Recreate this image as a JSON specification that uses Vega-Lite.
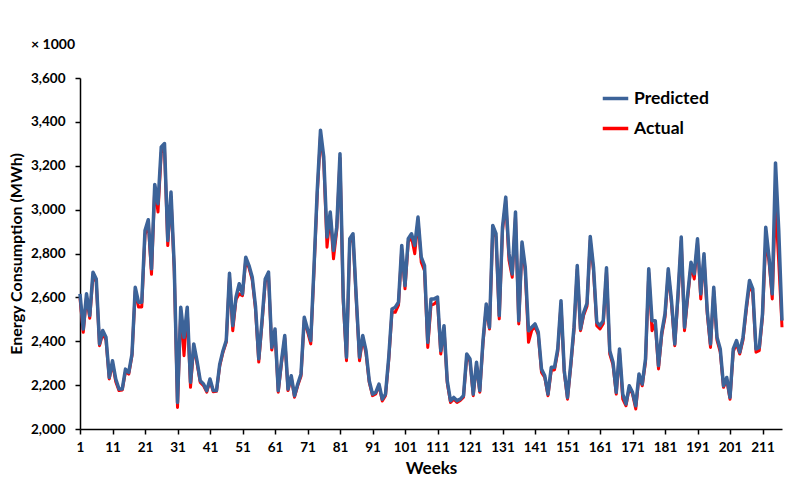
{
  "$schema": "https://vega.github.io/schema/vega-lite/v6.json",
  "width": 702,
  "height": 351,
  "autosize": {"type": "none"},
  "padding": {"left": 80, "top": 78, "right": 27, "bottom": 69},
  "background": "white",
  "title": {"text": "× 1000", "anchor": "start", "frame": "group", "dx": -49, "offset": 19, "font": "Lato", "fontSize": 14, "fontWeight": "bold", "color": "black"},
  "data": {"values": [
{"Week":1,"Predicted":2616,"Actual":2595},{"Week":2,"Predicted":2456,"Actual":2441},{"Week":3,"Predicted":2616,"Actual":2600},{"Week":4,"Predicted":2517,"Actual":2505},{"Week":5,"Predicted":2715,"Actual":2700},{"Week":6,"Predicted":2684,"Actual":2670},{"Week":7,"Predicted":2388,"Actual":2380},{"Week":8,"Predicted":2449,"Actual":2435},{"Week":9,"Predicted":2418,"Actual":2405},{"Week":10,"Predicted":2235,"Actual":2228},
{"Week":11,"Predicted":2311,"Actual":2300},{"Week":12,"Predicted":2228,"Actual":2215},{"Week":13,"Predicted":2182,"Actual":2175},{"Week":14,"Predicted":2182,"Actual":2178},{"Week":15,"Predicted":2273,"Actual":2262},{"Week":16,"Predicted":2258,"Actual":2250},{"Week":17,"Predicted":2342,"Actual":2335},{"Week":18,"Predicted":2646,"Actual":2630},{"Week":19,"Predicted":2578,"Actual":2556},{"Week":20,"Predicted":2578,"Actual":2556},
{"Week":21,"Predicted":2905,"Actual":2885},{"Week":22,"Predicted":2954,"Actual":2940},{"Week":23,"Predicted":2730,"Actual":2705},{"Week":24,"Predicted":3115,"Actual":3100},{"Week":25,"Predicted":3027,"Actual":2989},{"Week":26,"Predicted":3286,"Actual":3260},{"Week":27,"Predicted":3301,"Actual":3280},{"Week":28,"Predicted":2859,"Actual":2836},{"Week":29,"Predicted":3080,"Actual":3060},{"Week":30,"Predicted":2740,"Actual":2720},
{"Week":31,"Predicted":2121,"Actual":2098},{"Week":32,"Predicted":2555,"Actual":2540},{"Week":33,"Predicted":2418,"Actual":2334},{"Week":34,"Predicted":2555,"Actual":2540},{"Week":35,"Predicted":2213,"Actual":2190},{"Week":36,"Predicted":2388,"Actual":2375},{"Week":37,"Predicted":2311,"Actual":2300},{"Week":38,"Predicted":2220,"Actual":2212},{"Week":39,"Predicted":2205,"Actual":2198},{"Week":40,"Predicted":2175,"Actual":2168},
{"Week":41,"Predicted":2228,"Actual":2220},{"Week":42,"Predicted":2175,"Actual":2170},{"Week":43,"Predicted":2175,"Actual":2172},{"Week":44,"Predicted":2296,"Actual":2288},{"Week":45,"Predicted":2357,"Actual":2350},{"Week":46,"Predicted":2403,"Actual":2395},{"Week":47,"Predicted":2710,"Actual":2695},{"Week":48,"Predicted":2471,"Actual":2448},{"Week":49,"Predicted":2601,"Actual":2590},{"Week":50,"Predicted":2662,"Actual":2616},
{"Week":51,"Predicted":2616,"Actual":2608},{"Week":52,"Predicted":2783,"Actual":2770},{"Week":53,"Predicted":2745,"Actual":2735},{"Week":54,"Predicted":2692,"Actual":2680},{"Week":55,"Predicted":2560,"Actual":2545},{"Week":56,"Predicted":2320,"Actual":2305},{"Week":57,"Predicted":2494,"Actual":2480},{"Week":58,"Predicted":2684,"Actual":2670},{"Week":59,"Predicted":2715,"Actual":2700},{"Week":60,"Predicted":2372,"Actual":2360},
{"Week":61,"Predicted":2456,"Actual":2445},{"Week":62,"Predicted":2175,"Actual":2168},{"Week":63,"Predicted":2311,"Actual":2300},{"Week":64,"Predicted":2426,"Actual":2415},{"Week":65,"Predicted":2182,"Actual":2175},{"Week":66,"Predicted":2243,"Actual":2235},{"Week":67,"Predicted":2152,"Actual":2145},{"Week":68,"Predicted":2205,"Actual":2198},{"Week":69,"Predicted":2251,"Actual":2240},{"Week":70,"Predicted":2509,"Actual":2495},
{"Week":71,"Predicted":2456,"Actual":2445},{"Week":72,"Predicted":2403,"Actual":2388},{"Week":73,"Predicted":2738,"Actual":2720},{"Week":74,"Predicted":3088,"Actual":3070},{"Week":75,"Predicted":3362,"Actual":3340},{"Week":76,"Predicted":3240,"Actual":3220},{"Week":77,"Predicted":2875,"Actual":2829},{"Week":78,"Predicted":2989,"Actual":2975},{"Week":79,"Predicted":2814,"Actual":2776},{"Week":80,"Predicted":2920,"Actual":2905},
{"Week":81,"Predicted":3255,"Actual":3235},{"Week":82,"Predicted":2600,"Actual":2580},{"Week":83,"Predicted":2327,"Actual":2311},{"Week":84,"Predicted":2867,"Actual":2850},{"Week":85,"Predicted":2890,"Actual":2875},{"Week":86,"Predicted":2601,"Actual":2590},{"Week":87,"Predicted":2327,"Actual":2311},{"Week":88,"Predicted":2426,"Actual":2415},{"Week":89,"Predicted":2357,"Actual":2345},{"Week":90,"Predicted":2220,"Actual":2212},
{"Week":91,"Predicted":2159,"Actual":2152},{"Week":92,"Predicted":2167,"Actual":2160},{"Week":93,"Predicted":2205,"Actual":2198},{"Week":94,"Predicted":2136,"Actual":2128},{"Week":95,"Predicted":2159,"Actual":2152},{"Week":96,"Predicted":2327,"Actual":2315},{"Week":97,"Predicted":2547,"Actual":2535},{"Week":98,"Predicted":2555,"Actual":2532},{"Week":99,"Predicted":2578,"Actual":2565},{"Week":100,"Predicted":2837,"Actual":2820},
{"Week":101,"Predicted":2654,"Actual":2639},{"Week":102,"Predicted":2867,"Actual":2852},{"Week":103,"Predicted":2890,"Actual":2875},{"Week":104,"Predicted":2837,"Actual":2799},{"Week":105,"Predicted":2966,"Actual":2950},{"Week":106,"Predicted":2783,"Actual":2760},{"Week":107,"Predicted":2745,"Actual":2722},{"Week":108,"Predicted":2395,"Actual":2372},{"Week":109,"Predicted":2593,"Actual":2563},{"Week":110,"Predicted":2593,"Actual":2570},
{"Week":111,"Predicted":2601,"Actual":2585},{"Week":112,"Predicted":2357,"Actual":2342},{"Week":113,"Predicted":2471,"Actual":2460},{"Week":114,"Predicted":2220,"Actual":2210},{"Week":115,"Predicted":2129,"Actual":2121},{"Week":116,"Predicted":2144,"Actual":2136},{"Week":117,"Predicted":2129,"Actual":2121},{"Week":118,"Predicted":2136,"Actual":2130},{"Week":119,"Predicted":2152,"Actual":2145},{"Week":120,"Predicted":2342,"Actual":2330},
{"Week":121,"Predicted":2319,"Actual":2308},{"Week":122,"Predicted":2159,"Actual":2152},{"Week":123,"Predicted":2304,"Actual":2292},{"Week":124,"Predicted":2175,"Actual":2168},{"Week":125,"Predicted":2403,"Actual":2390},{"Week":126,"Predicted":2570,"Actual":2555},{"Week":127,"Predicted":2464,"Actual":2456},{"Week":128,"Predicted":2928,"Actual":2910},{"Week":129,"Predicted":2890,"Actual":2875},{"Week":130,"Predicted":2517,"Actual":2502},
{"Week":131,"Predicted":2920,"Actual":2905},{"Week":132,"Predicted":3057,"Actual":3040},{"Week":133,"Predicted":2799,"Actual":2769},{"Week":134,"Predicted":2707,"Actual":2692},{"Week":135,"Predicted":2989,"Actual":2970},{"Week":136,"Predicted":2494,"Actual":2479},{"Week":137,"Predicted":2852,"Actual":2835},{"Week":138,"Predicted":2738,"Actual":2720},{"Week":139,"Predicted":2448,"Actual":2395},{"Week":140,"Predicted":2464,"Actual":2450},
{"Week":141,"Predicted":2479,"Actual":2465},{"Week":142,"Predicted":2441,"Actual":2430},{"Week":143,"Predicted":2273,"Actual":2258},{"Week":144,"Predicted":2243,"Actual":2235},{"Week":145,"Predicted":2159,"Actual":2152},{"Week":146,"Predicted":2281,"Actual":2266},{"Week":147,"Predicted":2281,"Actual":2270},{"Week":148,"Predicted":2365,"Actual":2352},{"Week":149,"Predicted":2585,"Actual":2570},{"Week":150,"Predicted":2266,"Actual":2258},
{"Week":151,"Predicted":2144,"Actual":2136},{"Week":152,"Predicted":2296,"Actual":2285},{"Week":153,"Predicted":2464,"Actual":2450},{"Week":154,"Predicted":2745,"Actual":2728},{"Week":155,"Predicted":2456,"Actual":2448},{"Week":156,"Predicted":2532,"Actual":2520},{"Week":157,"Predicted":2573,"Actual":2560},{"Week":158,"Predicted":2878,"Actual":2860},{"Week":159,"Predicted":2738,"Actual":2722},{"Week":160,"Predicted":2487,"Actual":2471},
{"Week":161,"Predicted":2471,"Actual":2456},{"Week":162,"Predicted":2494,"Actual":2480},{"Week":163,"Predicted":2735,"Actual":2718},{"Week":164,"Predicted":2357,"Actual":2342},{"Week":165,"Predicted":2304,"Actual":2292},{"Week":166,"Predicted":2167,"Actual":2159},{"Week":167,"Predicted":2365,"Actual":2350},{"Week":168,"Predicted":2159,"Actual":2136},{"Week":169,"Predicted":2114,"Actual":2106},{"Week":170,"Predicted":2197,"Actual":2188},
{"Week":171,"Predicted":2167,"Actual":2160},{"Week":172,"Predicted":2106,"Actual":2091},{"Week":173,"Predicted":2251,"Actual":2240},{"Week":174,"Predicted":2205,"Actual":2197},{"Week":175,"Predicted":2319,"Actual":2305},{"Week":176,"Predicted":2730,"Actual":2712},{"Week":177,"Predicted":2494,"Actual":2448},{"Week":178,"Predicted":2494,"Actual":2480},{"Week":179,"Predicted":2289,"Actual":2274},{"Week":180,"Predicted":2441,"Actual":2428},
{"Week":181,"Predicted":2525,"Actual":2510},{"Week":182,"Predicted":2730,"Actual":2712},{"Week":183,"Predicted":2585,"Actual":2570},{"Week":184,"Predicted":2388,"Actual":2380},{"Week":185,"Predicted":2616,"Actual":2600},{"Week":186,"Predicted":2875,"Actual":2858},{"Week":187,"Predicted":2464,"Actual":2448},{"Week":188,"Predicted":2616,"Actual":2600},{"Week":189,"Predicted":2760,"Actual":2745},{"Week":190,"Predicted":2707,"Actual":2684},
{"Week":191,"Predicted":2867,"Actual":2850},{"Week":192,"Predicted":2616,"Actual":2593},{"Week":193,"Predicted":2799,"Actual":2783},{"Week":194,"Predicted":2540,"Actual":2525},{"Week":195,"Predicted":2388,"Actual":2372},{"Week":196,"Predicted":2646,"Actual":2630},{"Week":197,"Predicted":2418,"Actual":2405},{"Week":198,"Predicted":2365,"Actual":2350},{"Week":199,"Predicted":2197,"Actual":2190},{"Week":200,"Predicted":2235,"Actual":2225},
{"Week":201,"Predicted":2144,"Actual":2136},{"Week":202,"Predicted":2365,"Actual":2352},{"Week":203,"Predicted":2403,"Actual":2390},{"Week":204,"Predicted":2350,"Actual":2342},{"Week":205,"Predicted":2418,"Actual":2405},{"Week":206,"Predicted":2555,"Actual":2540},{"Week":207,"Predicted":2677,"Actual":2660},{"Week":208,"Predicted":2639,"Actual":2620},{"Week":209,"Predicted":2365,"Actual":2350},{"Week":210,"Predicted":2372,"Actual":2357},
{"Week":211,"Predicted":2525,"Actual":2510},{"Week":212,"Predicted":2920,"Actual":2860},{"Week":213,"Predicted":2783,"Actual":2765},{"Week":214,"Predicted":2616,"Actual":2593},{"Week":215,"Predicted":3213,"Actual":3030},{"Week":216,"Predicted":2905,"Actual":2760},{"Week":217,"Predicted":2494,"Actual":2464}
  ]},
  "encoding": {
    "x": {
      "field": "Week", "type": "quantitative",
      "scale": {"domain": [1, 217], "nice": false, "zero": false},
      "axis": {"values": [1,11,21,31,41,51,61,71,81,91,101,111,121,131,141,151,161,171,181,191,201,211], "title": "Weeks", "titleFontSize": 17, "titlePadding": 7, "labelPadding": 6, "labelFlush": false}
    }
  },
  "layer": [
    {
      "mark": {"type": "line", "strokeWidth": 3, "strokeJoin": "round"},
      "encoding": {
        "y": {"field": "Actual", "type": "quantitative", "scale": {"domain": [2000, 3600], "nice": false, "zero": false},
              "axis": {"values": [2000,2200,2400,2600,2800,3000,3200,3400,3600], "format": ",d", "title": "Energy Consumption (MWh)", "titleFontSize": 16, "titlePadding": 6, "labelPadding": 10}},
        "color": {"datum": "Actual", "type": "nominal", "scale": {"domain": ["Predicted", "Actual"], "range": ["#3C6399", "#FF0000"]}}
      }
    },
    {
      "mark": {"type": "line", "strokeWidth": 3.5, "strokeJoin": "round"},
      "encoding": {
        "y": {"field": "Predicted", "type": "quantitative", "title": "Energy Consumption (MWh)"},
        "color": {"datum": "Predicted", "type": "nominal"}
      }
    }
  ],
  "resolve": {"scale": {"color": "shared"}},
  "config": {
    "view": {"stroke": null},
    "font": "Lato",
    "axis": {
      "grid": false, "domainColor": "black", "domainWidth": 1.5, "tickColor": "black", "tickWidth": 1.5, "tickSize": 5,
      "labelFont": "Lato", "labelFontWeight": "bold", "labelFontSize": 13.5, "labelColor": "black",
      "titleFont": "Lato", "titleFontWeight": "bold", "titleColor": "black"
    },
    "legend": {
      "orient": "none", "legendX": 521, "legendY": 6, "title": null,
      "symbolType": "stroke", "symbolStrokeWidth": 3.5, "symbolSize": 650,
      "labelFont": "Lato", "labelFontWeight": "bold", "labelFontSize": 17.5, "labelColor": "black",
      "rowPadding": 7, "labelOffset": 4
    }
  }
}
